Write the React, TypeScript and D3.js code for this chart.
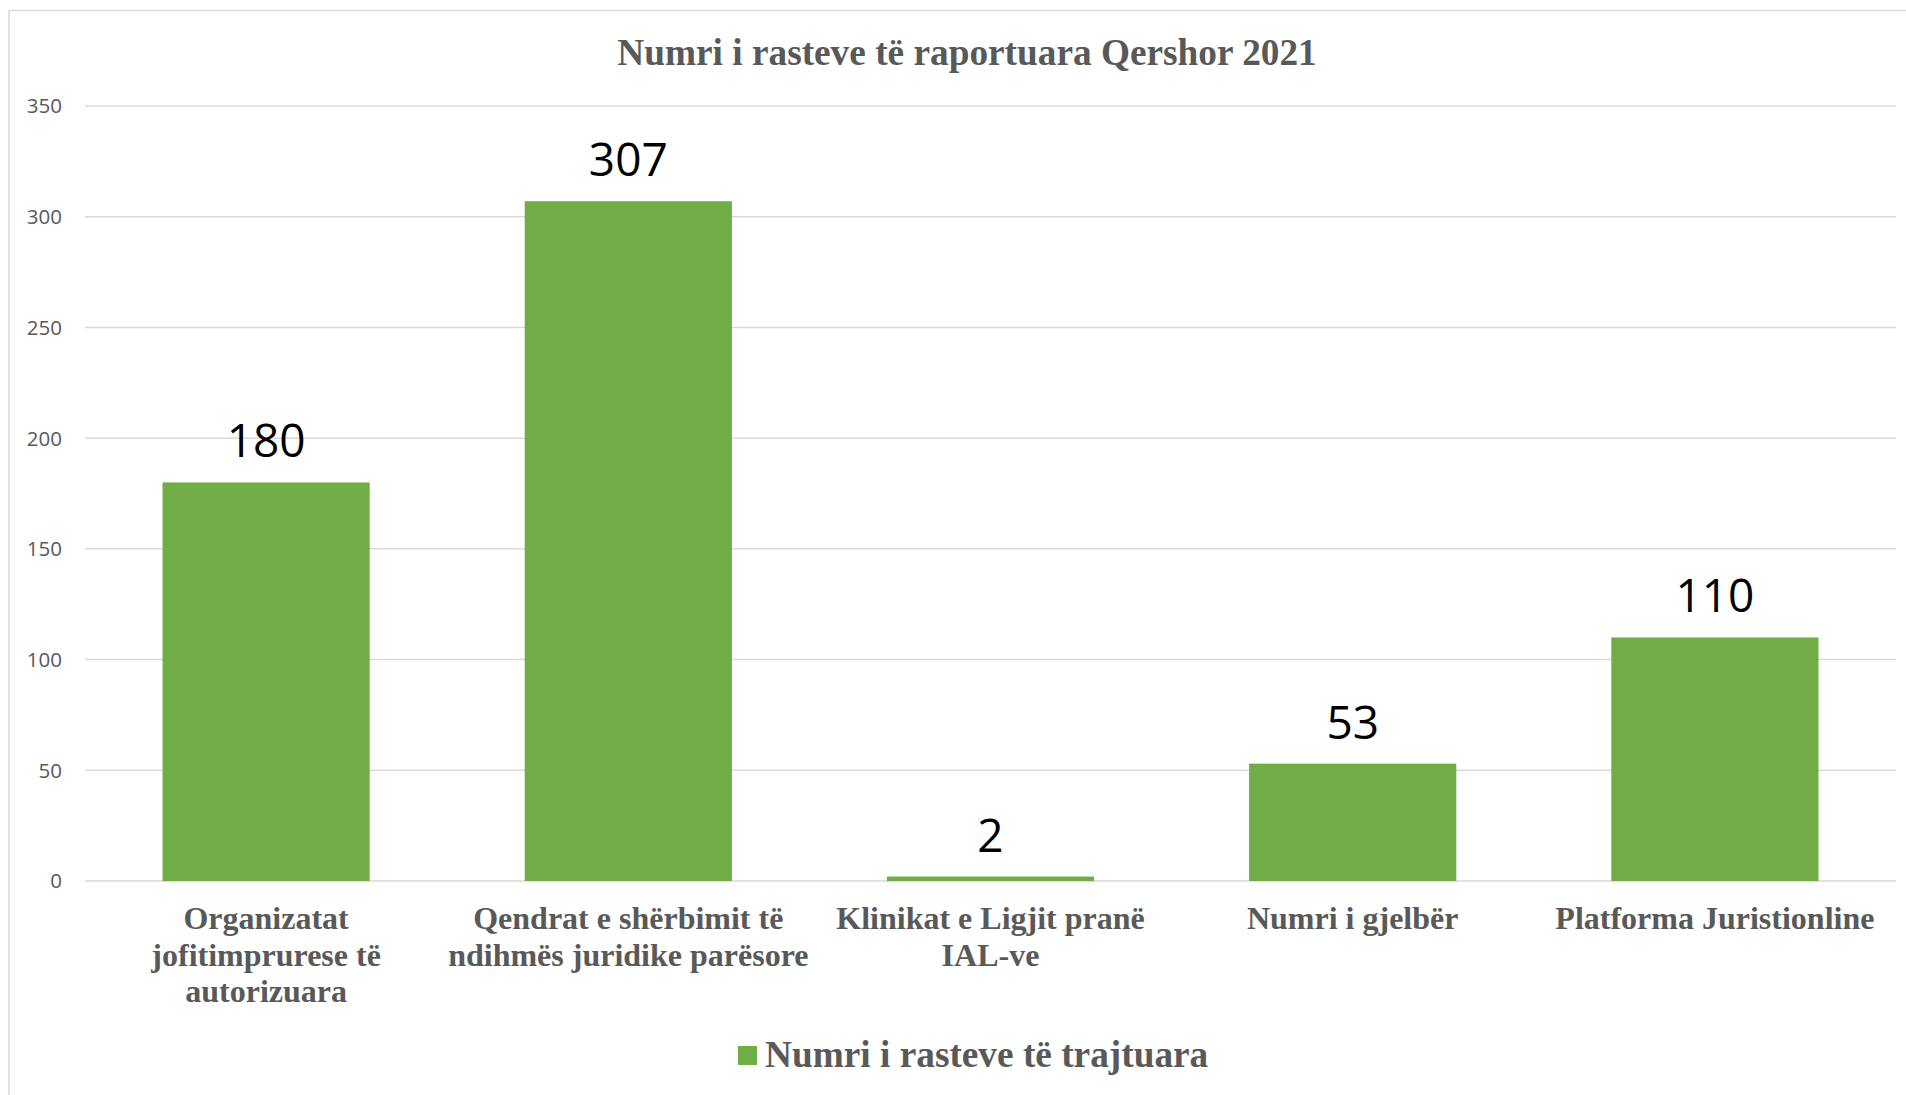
import React from "react";
import * as d3 from "d3";

const categories: string[][] = [
  ["Organizatat", "jofitimprurese të", "autorizuara"],
  ["Qendrat e shërbimit të", "ndihmës juridike parësore"],
  ["Klinikat e Ligjit pranë", "IAL-ve"],
  ["Numri i gjelbër"],
  ["Platforma Juristionline"],
];
const values: number[] = [180, 307, 2, 53, 110];
const yTicks: number[] = [0, 50, 100, 150, 200, 250, 300, 350];
const title = "Numri i rasteve të raportuara Qershor 2021";
const seriesName = "Numri i rasteve të trajtuara";

const W = 1906;
const H = 1095;
const GRAY = "#595959";
const GRID = "#d9d9d9";
const GREEN = "#70ad47";

export default function App() {
  const keys = categories.map((c) => c.join(" "));
  const x = d3
    .scaleBand<string>()
    .domain(keys)
    .range([85, 1896])
    .paddingInner(0.428)
    .paddingOuter(0.214);
  const y = d3.scaleLinear().domain([0, 350]).range([881, 106]);
  const serif = "'Liberation Serif', 'Times New Roman', serif";
  const sans = "'Open Sans', 'Noto Sans', sans-serif";

  return (
    <svg
      width={W}
      height={H}
      style={{ position: "absolute", left: 0, top: 0, background: "#fff" }}
    >
      <rect x={9} y={10.5} width={W + 20} height={H + 20} fill="#fff" stroke={GRID} strokeWidth={1.5} />
      <text
        x={967}
        y={65}
        textAnchor="middle"
        fontFamily={serif}
        fontWeight="bold"
        fontSize={37.3}
        fill={GRAY}
      >
        {title}
      </text>
      {yTicks.map((t) => (
        <g key={t}>
          <line x1={85} x2={1896} y1={y(t)} y2={y(t)} stroke={GRID} strokeWidth={1.5} />
          <text
            x={62}
            y={y(t)}
            dy="0.36em"
            textAnchor="end"
            fontFamily={sans}
            fontSize={20.5}
            fill={GRAY}
          >
            {t}
          </text>
        </g>
      ))}
      {keys.map((k, i) => {
        const bx = x(k)!;
        const bw = x.bandwidth();
        const cx = bx + bw / 2;
        return (
          <g key={k}>
            <rect x={bx} y={y(values[i])} width={bw} height={y(0) - y(values[i])} fill={GREEN} />
            <text
              x={cx}
              y={y(values[i]) - 25}
              textAnchor="middle"
              fontFamily={sans}
              fontSize={46}
              fill="#000"
            >
              {values[i]}
            </text>
            {categories[i].map((line, j) => (
              <text
                key={j}
                x={cx}
                y={929 + j * 36.5}
                textAnchor="middle"
                fontFamily={serif}
                fontWeight="bold"
                fontSize={32}
                fill={GRAY}
              >
                {line}
              </text>
            ))}
          </g>
        );
      })}
      <rect x={738} y={1046} width={19} height={19} fill={GREEN} />
      <text x={765} y={1067} fontFamily={serif} fontWeight="bold" fontSize={37.3} fill={GRAY}>
        {seriesName}
      </text>
    </svg>
  );
}
